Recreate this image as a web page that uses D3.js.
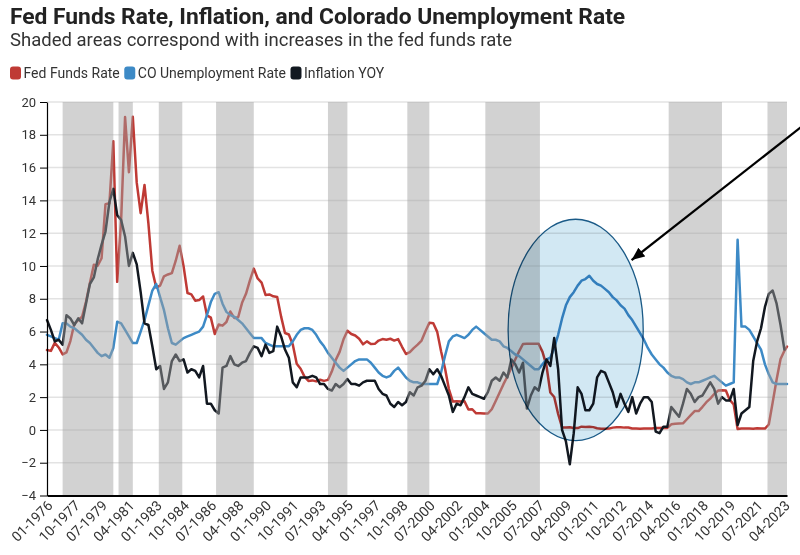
<!DOCTYPE html>
<html><head><meta charset="utf-8">
<script src="https://cdn.jsdelivr.net/npm/d3@7"></script>
<style>
body{margin:0;background:#fff;}
svg{display:block;font-family:Roboto,"Liberation Sans",sans-serif;}
</style></head><body>
<svg id="chart" width="800" height="555"></svg>
<script>
// ---------- DATA (quarterly readings: Jan, Apr, Jul, Oct; last value = Jun 2023) ----------
const quarterStart = "1976-01";
const quarterEnd = "2023-04";
const extraMonth = "2023-06";

const fedFunds = [
 4.87,4.82,5.31,5.03, 4.61,4.73,5.42,6.47, 6.70,6.90,7.81,8.96, 10.07,10.01,10.47,13.77, // 1976-79
 13.82,17.61,9.03,12.81, 19.08,15.72,19.10,15.08, 13.22,14.94,12.59,9.71, 8.68,8.80,9.37,9.48, // 1980-83
 9.56,10.32,11.23,9.99, 8.35,8.27,7.88,7.92, 8.14,6.99,6.85,5.85, 6.43,6.36,6.58,7.22, // 1984-87
 6.83,6.87,7.75,8.30, 9.12,9.84,9.24,8.99, 8.23,8.26,8.15,8.11, 6.91,5.91,5.82,5.21, // 1988-91
 4.03,3.73,3.25,2.99, 3.02,2.96,3.06,2.99, 3.05,3.56,4.26,4.76, 5.53,6.05,5.85,5.76, // 1992-95
 5.56,5.22,5.40,5.24, 5.25,5.45,5.54,5.50, 5.56,5.45,5.54,5.07, 4.63,4.74,4.99,5.20, // 1996-99
 5.45,6.02,6.54,6.51, 5.98,4.80,3.77,2.49, 1.73,1.75,1.73,1.75, 1.24,1.26,1.01,1.01, // 2000-03
 1.00,1.00,1.26,1.76, 2.28,2.79,3.26,3.78, 4.29,4.79,5.24,5.25, 5.25,5.25,5.26,4.76, // 2004-07
 3.94,2.28,2.01,0.97, 0.15,0.15,0.16,0.12, 0.11,0.20,0.18,0.19, 0.17,0.10,0.07,0.07, // 2008-11
 0.08,0.14,0.16,0.16, 0.14,0.15,0.09,0.09, 0.07,0.09,0.09,0.09, 0.11,0.12,0.13,0.12, // 2012-15
 0.34,0.37,0.39,0.40, 0.65,0.90,1.15,1.15, 1.41,1.69,1.91,2.19, 2.40,2.42,2.40,1.83, // 2016-19
 1.55,0.05,0.09,0.09, 0.09,0.07,0.10,0.08, 0.08,0.33,1.68,3.08, 4.33,4.83, 5.08      // 2020-23
];

const coUnemployment = [
 5.8,5.7,5.6,5.5, 6.5,6.5,6.3,6.2, 6.0,5.8,5.5,5.3, 5.0,4.7,4.5,4.6, // 1976-79
 4.4,5.0,6.6,6.5, 6.1,5.7,5.3,5.3, 6.0,6.7,7.6,8.5, 8.9,8.1,7.3,6.2, // 1980-83
 5.3,5.2,5.4,5.6, 5.7,5.8,5.9,6.0, 6.3,7.0,7.8,8.3, 8.4,7.7,7.2,7.0, // 1984-87
 6.9,6.7,6.5,6.2, 5.9,5.6,5.6,5.6, 5.3,5.2,5.1,5.1, 5.1,5.1,5.1,5.4, // 1988-91
 5.8,6.1,6.2,6.2, 6.1,5.8,5.4,5.1, 4.7,4.4,4.1,3.8, 3.6,3.8,4.0,4.2, // 1992-95
 4.3,4.3,4.3,4.1, 3.8,3.5,3.3,3.2, 3.3,3.6,3.8,3.5, 3.2,3.0,2.9,2.9, // 1996-99
 2.8,2.8,2.8,2.8, 2.8,3.5,4.5,5.4, 5.7,5.8,5.7,5.6, 5.8,6.1,6.3,6.1, // 2000-03
 5.9,5.7,5.5,5.5, 5.4,5.1,5.0,4.8, 4.6,4.5,4.3,4.1, 3.9,3.7,3.7,4.0, // 2004-07
 4.3,4.4,5.0,5.8, 6.8,7.6,8.1,8.4, 8.8,9.1,9.2,9.4, 9.1,8.9,8.8,8.6, // 2008-11
 8.4,8.1,7.9,7.6, 7.4,7.0,6.7,6.3, 5.9,5.5,5.0,4.6, 4.3,4.0,3.8,3.5, // 2012-15
 3.3,3.2,3.2,3.1, 2.9,2.8,2.9,2.9, 3.0,3.1,3.2,3.3, 3.1,2.9,2.7,2.8, // 2016-19
 2.9,11.6,6.3,6.3, 6.1,5.7,5.3,4.9, 4.0,3.4,2.9,2.8, 2.8,2.8, 2.8    // 2020-23
];

const inflationYoY = [
 6.7,6.1,5.4,5.5, 5.2,7.0,6.8,6.4, 6.8,6.5,7.7,8.9, 9.3,10.4,11.3,12.1, // 1976-79
 13.9,14.7,13.1,12.8, 11.8,10.0,10.8,10.1, 8.4,6.5,6.4,5.1, 3.7,3.9,2.5,2.9, // 1980-83
 4.2,4.6,4.2,4.3, 3.5,3.7,3.6,3.2, 3.9,1.6,1.6,1.2, 1.0,3.8,3.9,4.5, // 1984-87
 4.0,3.9,4.1,4.2, 4.7,5.1,5.0,4.5, 5.2,4.7,4.8,6.3, 5.7,4.9,4.4,2.9, // 1988-91
 2.6,3.2,3.2,3.2, 3.3,3.2,2.8,2.8, 2.5,2.4,2.8,2.6, 2.8,3.1,2.8,2.8, // 1992-95
 2.7,2.9,3.0,3.0, 3.0,2.5,2.2,2.1, 1.6,1.4,1.7,1.5, 1.7,2.3,2.1,2.6, // 1996-99
 2.7,3.0,3.7,3.4, 3.7,3.3,2.7,2.1, 1.1,1.6,1.5,2.0, 2.6,2.2,2.1,2.0, // 2000-03
 1.9,2.3,3.0,3.2, 3.0,3.5,3.2,4.3, 4.0,3.5,4.1,1.3, 2.1,2.6,2.4,3.5, // 2004-07
 4.3,3.9,5.6,3.7, 0.0,-0.7,-2.1,-0.2, 2.6,2.2,1.2,1.2, 1.6,3.2,3.6,3.5, // 2008-11
 2.9,2.3,1.4,2.2, 1.6,1.1,2.0,1.0, 1.6,2.0,2.0,1.7, -0.1,-0.2,0.2,0.2, // 2012-15
 1.4,1.1,0.8,1.6, 2.5,2.2,1.7,2.0, 2.1,2.5,2.9,2.5, 1.6,2.0,1.8,1.8, // 2016-19
 2.5,0.3,1.0,1.2, 1.4,4.2,5.4,6.2, 7.5,8.3,8.5,7.7, 6.4,4.9, null    // 2020-23
];

// periods of fed funds rate increases (shaded)
const hikePeriods = [
 ["1977-01","1980-04"], ["1980-08","1981-07"], ["1983-03","1984-09"], ["1986-11","1989-04"],
 ["1994-01","1995-04"], ["1999-02","2000-07"], ["2004-02","2007-08"], ["2015-11","2019-04"],
 ["2022-03","2023-06"]
];

const xTickLabels = ["01-1976","10-1977","07-1979","04-1981","01-1983","10-1984","07-1986","04-1988",
 "01-1990","10-1991","07-1993","04-1995","01-1997","10-1998","07-2000","04-2002","01-2004","10-2005",
 "07-2007","04-2009","01-2011","10-2012","07-2014","04-2016","01-2018","10-2019","07-2021","04-2023"];
const yTicks = [-4,-2,0,2,4,6,8,10,12,14,16,18,20];

const seriesNames = ["Fed Funds Rate","CO Unemployment Rate","Inflation YOY"];
const seriesColors = ["#bf3a35","#3d8ac6","#121820"];

// annotation (in data coordinates)
const ellipseNote = {from:"2005-07-18", to:"2014-03-15", top:12.85, bottom:-0.65};
const arrowNote = {from:["2025-01-04",18.99], to:["2013-06-16",10.36]};

// ---------- DRAW ----------
const svg = d3.select("#chart");
const parseM = d3.timeParse("%Y-%m");
const parseD = d3.timeParse("%Y-%m-%d");
const parseTick = d3.timeParse("%m-%Y");

const dates = d3.timeMonth.every(3)
  .range(parseM(quarterStart), d3.timeMonth.offset(parseM(quarterEnd), 1))
  .concat([parseM(extraMonth)]);

const plot = {left:47, right:787, top:102, bottom:495.5};
const x = d3.scaleTime().domain([parseM(quarterStart), parseM(extraMonth)]).range([plot.left, plot.right]);
const y = d3.scaleLinear().domain([-4, 20]).range([plot.bottom, plot.top]);

// gridlines
svg.append("g").selectAll("line").data(yTicks.filter(t => t > -4)).join("line")
  .attr("x1", plot.left).attr("x2", plot.right)
  .attr("y1", d => y(d)).attr("y2", d => y(d))
  .attr("stroke", "#e3e3e3").attr("stroke-width", 1.5);

// series lines
const allSeries = [fedFunds, coUnemployment, inflationYoY];
const line = d3.line().defined(d => d.v != null).x(d => x(d.date)).y(d => y(d.v));
allSeries.forEach((vals, i) => {
  const pts = vals.map((v, k) => ({date: dates[k], v}));
  svg.append("path").datum(pts)
    .attr("d", line).attr("fill", "none")
    .attr("stroke", seriesColors[i]).attr("stroke-width", 2.5)
    .attr("stroke-linejoin", "round").attr("stroke-linecap", "round");
});

// shaded periods (overlay)
svg.append("g").selectAll("rect").data(hikePeriods).join("rect")
  .attr("x", d => x(parseM(d[0])))
  .attr("width", d => x(parseM(d[1])) - x(parseM(d[0])))
  .attr("y", plot.top).attr("height", plot.bottom - plot.top)
  .attr("fill", "#a1a0a0").attr("opacity", 0.48);

// ellipse annotation
const ex0 = x(parseD(ellipseNote.from)), ex1 = x(parseD(ellipseNote.to));
const ey0 = y(ellipseNote.top), ey1 = y(ellipseNote.bottom);
svg.append("ellipse")
  .attr("cx", (ex0 + ex1) / 2).attr("cy", (ey0 + ey1) / 2)
  .attr("rx", (ex1 - ex0) / 2).attr("ry", (ey1 - ey0) / 2)
  .attr("fill", "#d2e8f3").style("mix-blend-mode", "multiply")
  .attr("stroke", "#1a5a87").attr("stroke-width", 1.3);

// y axis
const yAxis = svg.append("g").attr("transform", `translate(${plot.left},0)`)
  .call(d3.axisLeft(y).tickValues(yTicks).tickSize(7).tickSizeOuter(0).tickPadding(4));
yAxis.select(".domain").attr("stroke", "#000").attr("stroke-width", 1.2);
yAxis.selectAll(".tick line").attr("stroke", "#000");
yAxis.selectAll("text").attr("font-size", 13).attr("fill", "#333")
  .attr("font-family", "Roboto, sans-serif");

// x axis
const xAxis = svg.append("g").attr("transform", `translate(0,${plot.bottom})`)
  .call(d3.axisBottom(x).tickValues(xTickLabels.map(parseTick)).tickFormat(d3.timeFormat("%m-%Y"))
    .tickSize(0).tickSizeOuter(0));
xAxis.select(".domain").attr("stroke", "#000").attr("stroke-width", 2);
xAxis.selectAll("text")
  .attr("x", 0).attr("y", 0).attr("dy", 0)
  .attr("transform", "translate(6,11) rotate(-45)")
  .attr("text-anchor", "end")
  .attr("font-size", 14).attr("fill", "#333")
  .attr("font-family", "Roboto, sans-serif");

// arrow
svg.append("defs").append("marker")
  .attr("id", "ah").attr("markerUnits", "userSpaceOnUse")
  .attr("markerWidth", 14).attr("markerHeight", 11)
  .attr("refX", 13).attr("refY", 5.5).attr("orient", "auto")
  .append("path").attr("d", "M0,0 L13,5.5 L0,11 Z").attr("fill", "#000");
svg.append("line")
  .attr("x1", x(parseD(arrowNote.from[0]))).attr("y1", y(arrowNote.from[1]))
  .attr("x2", x(parseD(arrowNote.to[0]))).attr("y2", y(arrowNote.to[1]))
  .attr("stroke", "#000").attr("stroke-width", 2.3)
  .attr("marker-end", "url(#ah)");

// title & subtitle
svg.append("text").attr("x", 10).attr("y", 24)
  .attr("font-size", 22.8).attr("font-weight", 700).attr("fill", "#222")
  .text("Fed Funds Rate, Inflation, and Colorado Unemployment Rate");
svg.append("text").attr("x", 10).attr("y", 46)
  .attr("font-size", 18.5).attr("fill", "#333")
  .text("Shaded areas correspond with increases in the fed funds rate");

// legend
const legend = svg.append("g").attr("transform", "translate(10,0)");
let lx = 0;
seriesNames.forEach((name, i) => {
  legend.append("rect").attr("x", lx).attr("y", 66.5).attr("width", 11).attr("height", 13)
    .attr("rx", 3).attr("fill", seriesColors[i]);
  const t = legend.append("text").attr("x", lx + 13.5).attr("y", 77.5)
    .attr("font-size", 14).attr("fill", "#333").text(name);
  lx += 13.5 + t.node().getComputedTextLength() + 4.5;
});
</script>
</body></html>
